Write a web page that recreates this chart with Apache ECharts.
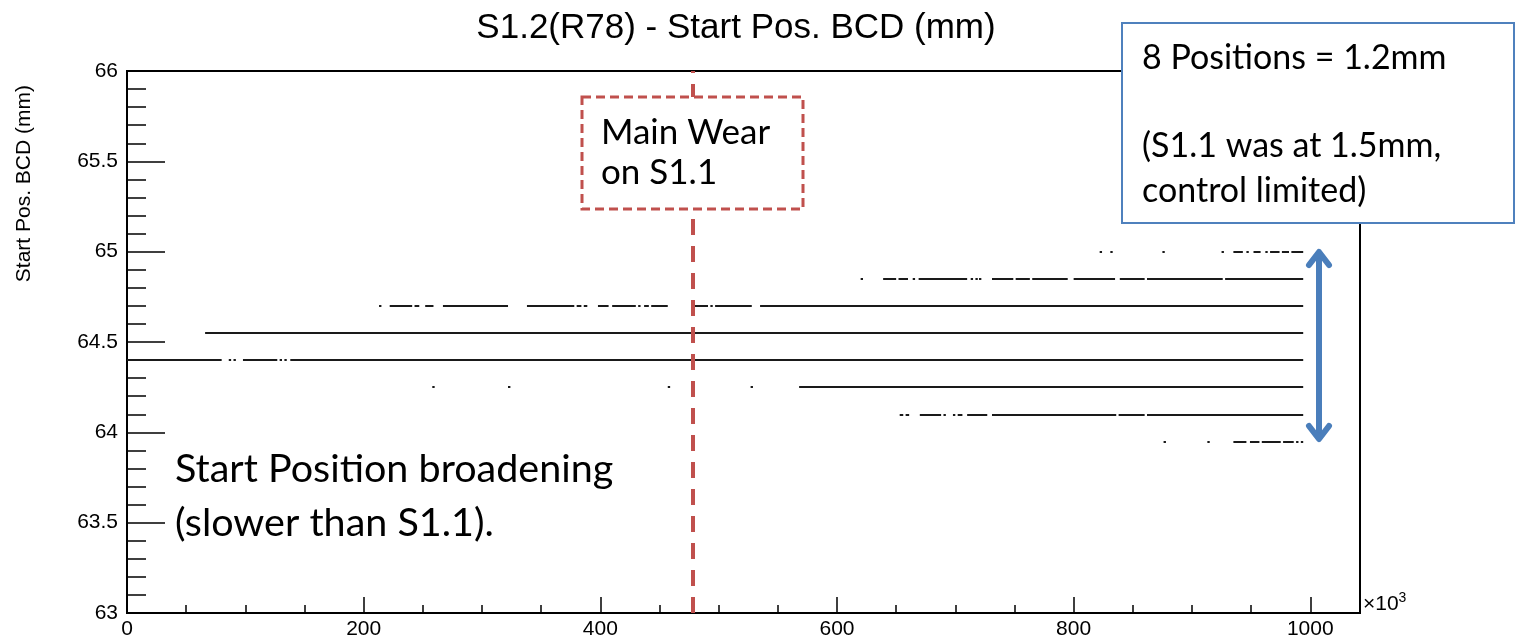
<!DOCTYPE html>
<html>
<head>
<meta charset="utf-8">
<script src="https://cdn.jsdelivr.net/npm/echarts@6/dist/echarts.min.js"></script>
<style>html,body{margin:0;padding:0;background:#fff;}#chart{width:1515px;height:643px;}</style>
</head>
<body>
<div id="chart"></div>
<script>
// ---- data (x in units of 10^3, y in mm) ----
const chartTitle = 'S1.2(R78) - Start Pos. BCD (mm)';
const yAxisTitle = 'Start Pos. BCD (mm)';
const levels = [65.00, 64.85, 64.70, 64.55, 64.40, 64.25, 64.10, 63.95];
const seg6500 = [[822,824],[831,833],[875,877],[925,927],[935,943],[946,948],[952,958],[962,964],[966,974],[976,982],[984,994]];
const seg6485 = [[620,622],[639,650],[652,660],[664,666],[669,710],[713,715],[717,719],[720,722],[731,749],[751,763],[765,795],[800,835],[839,860],[862,926],[928,994]];
const seg6470 = [[213,215],[222,241],[243,247],[252,259],[267,322],[338,378],[380,384],[386,389],[398,407],[410,430],[432,434],[437,441],[443,457],[480,491],[493,495],[497,528],[535,994]];
const seg6455 = [[66,994]];
const seg6440 = [[0,80],[86,88],[90,92],[98,127],[129,131],[133,135],[138,994]];
const seg6425 = [[258,260],[322,324],[457,459],[527,529],[568,994]];
const seg6410 = [[653,656],[658,661],[670,688],[690,692],[698,700],[702,706],[710,727],[731,836],[838,860],[862,994]];
const seg6395 = [[876,878],[913,915],[935,946],[949,957],[959,975],[977,986],[988,990],[992,994]];
const segmentsByLevel = [seg6500, seg6485, seg6470, seg6455, seg6440, seg6425, seg6410, seg6395];
const mainWearX = 478;
const xRange = [0, 1042];
const yRange = [63, 66];

// ---- build ----
const lineData = [];
levels.forEach((lv, i) => {
  segmentsByLevel[i].forEach(s => lineData.push({coords: [[s[0], lv], [s[1], lv]]}));
});

const chart = echarts.init(document.getElementById('chart'));
const axisFont = 'Liberation Sans';
const noteFont = 'Lato';
const red = '#c0504d';
const blue = '#4f81bd';

chart.setOption({
  animation: false,
  backgroundColor: '#fff',
  grid: {left: 127, top: 71, right: 155, bottom: 30, show: true, borderColor: '#000', borderWidth: 2, backgroundColor: 'transparent'},
  xAxis: {
    type: 'value', min: xRange[0], max: xRange[1], interval: 200,
    axisLine: {lineStyle: {color: '#000', width: 2}},
    axisTick: {inside: true, length: 16, lineStyle: {color: '#000', width: 1.5}},
    minorTick: {show: true, splitNumber: 4, length: 8, lineStyle: {color: '#000', width: 1.5}},
    splitLine: {show: false},
    axisLabel: {color: '#000', fontFamily: axisFont, fontSize: 21, margin: 6, showMaxLabel: false, formatter: v => String(v)}
  },
  yAxis: {
    type: 'value', min: yRange[0], max: yRange[1], interval: 0.5,
    axisLine: {lineStyle: {color: '#000', width: 2}},
    axisTick: {inside: true, length: 38, lineStyle: {color: '#000', width: 1.5}},
    minorTick: {show: true, splitNumber: 5, length: 19, lineStyle: {color: '#000', width: 1.5}},
    splitLine: {show: false},
    axisLabel: {color: '#000', fontFamily: axisFont, fontSize: 21, margin: 9, formatter: v => String(v)}
  },
  series: [
    {
      type: 'lines', coordinateSystem: 'cartesian2d', polyline: false,
      lineStyle: {color: '#1a1a1a', width: 2, opacity: 1},
      data: lineData,
      z: 3,
      markLine: {
        silent: true, symbol: ['none', 'none'], label: {show: false},
        lineStyle: {color: red, width: 4, type: [16, 11]},
        data: [{xAxis: mainWearX}]
      }
    }
  ],
  graphic: [
    {type: 'text', z: 100, x: 736, y: 28, style: {text: chartTitle, fontFamily: axisFont, fontSize: 35, fill: '#000', align: 'center', verticalAlign: 'middle'}},
    {type: 'text', z: 100, x: 24, y: 85, rotation: Math.PI / 2, style: {text: yAxisTitle, fontFamily: axisFont, fontSize: 21, fill: '#000', align: 'right', verticalAlign: 'middle'}},
    {type: 'text', z: 100, x: 1363, y: 604, style: {rich: {b: {fontFamily: axisFont, fontSize: 21, fill: '#000'}, s: {fontFamily: axisFont, fontSize: 14, fill: '#000', verticalAlign: 'top', padding: [0,0,12,0]}}, text: '{b|×10}{s|3}', align: 'left', verticalAlign: 'middle'}},
    // red dashed box
    {type: 'rect', z: 100, shape: {x: 582, y: 97, width: 221, height: 112}, style: {fill: '#fff', stroke: red, lineWidth: 3, lineDash: [9, 5]}},
    {type: 'text', z: 101, x: 601, y: 133, style: {text: 'Main Wear', fontFamily: noteFont, fontSize: 35, fill: '#000', verticalAlign: 'middle'}},
    {type: 'text', z: 101, x: 601, y: 173, style: {text: 'on S1.1', fontFamily: noteFont, fontSize: 35, fill: '#000', verticalAlign: 'middle'}},
    // blue box
    {type: 'rect', z: 100, shape: {x: 1122, y: 23, width: 392, height: 200}, style: {fill: '#fff', stroke: blue, lineWidth: 2}},
    {type: 'text', z: 101, x: 1142, y: 58, style: {text: '8 Positions = 1.2mm', fontFamily: noteFont, fontSize: 34, fill: '#000', verticalAlign: 'middle'}},
    {type: 'text', z: 101, x: 1142, y: 146, style: {text: '(S1.1 was at 1.5mm,', fontFamily: noteFont, fontSize: 34, fill: '#000', verticalAlign: 'middle'}},
    {type: 'text', z: 101, x: 1142, y: 191, style: {text: 'control limited)', fontFamily: noteFont, fontSize: 34, fill: '#000', verticalAlign: 'middle'}},
    // bottom-left note
    {type: 'text', z: 101, x: 175, y: 469, style: {text: 'Start Position broadening', fontFamily: noteFont, fontSize: 39.5, fill: '#000', verticalAlign: 'middle'}},
    {type: 'text', z: 101, x: 175, y: 523, style: {text: '(slower than S1.1).', fontFamily: noteFont, fontSize: 39.5, fill: '#000', verticalAlign: 'middle'}},
    // double arrow
    {type: 'line', z: 100, shape: {x1: 1319, y1: 252, x2: 1319, y2: 439}, style: {stroke: '#4a7ebb', lineWidth: 6}},
    {type: 'polyline', z: 100, shape: {points: [[1309, 265], [1319, 252], [1329, 265]]}, style: {stroke: '#4a7ebb', lineWidth: 6, lineCap: 'round', lineJoin: 'round', fill: null}},
    {type: 'polyline', z: 100, shape: {points: [[1309, 426], [1319, 439], [1329, 426]]}, style: {stroke: '#4a7ebb', lineWidth: 6, lineCap: 'round', lineJoin: 'round', fill: null}}
  ]
});
</script>
</body>
</html>
